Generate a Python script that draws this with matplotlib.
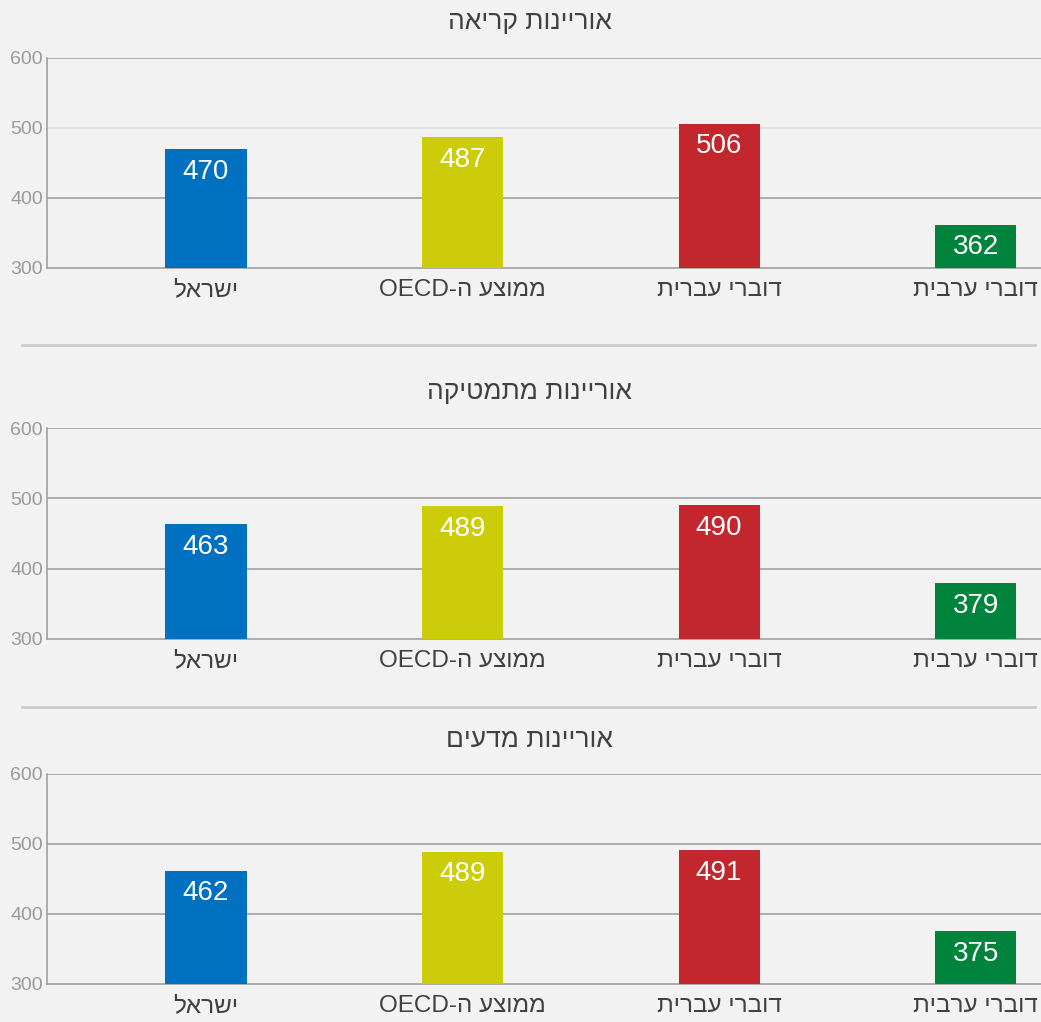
import matplotlib.pyplot as plt
from matplotlib.lines import Line2D

# Hebrew labels are stored in logical order and flipped for display
categories = ["ישראל", "ממוצע ה-OECD", "דוברי עברית", "דוברי ערבית"]
titles = ["אוריינות קריאה", "אוריינות מתמטיקה", "אוריינות מדעים"]
reading = [470, 487, 506, 362]
math = [463, 489, 490, 379]
science = [462, 489, 491, 375]
yticks = [300, 400, 500, 600]

colors = ["#0070c0", "#cccc0a", "#c1272d", "#00843d"]
FONT = ["Liberation Sans Narrow", "Liberation Sans", "DejaVu Sans"]


def visual(text):
    # crude RTL: reverse Hebrew runs, keep Latin runs as they are
    words = text.split(" ")
    out = []
    for w in words:
        if "-" in w and any(c.isascii() and c.isalpha() for c in w):
            pre, post = w.split("-", 1)
            out.append(post + "-" + pre[::-1])
        else:
            out.append(w[::-1])
    return " ".join(out[::-1])


plt.rcParams["font.family"] = FONT

fig = plt.figure(figsize=(10.41, 10.22), dpi=100)
fig.patch.set_facecolor("#f2f2f2")

panels = [
    (reading, [0.0451, 0.7378, 0.9549, 0.2055], 0.9785),
    (math, [0.0451, 0.3748, 0.9549, 0.2064], 0.6164),
    (science, [0.0451, 0.0372, 0.9549, 0.2055], 0.2759),
]

for i, (values, rect, ty) in enumerate(panels):
    ax = fig.add_axes(rect)
    ax.set_facecolor("#f2f2f2")
    x = list(range(len(categories)))
    ax.bar(x, [v - 300 for v in values], bottom=300, width=0.316, color=colors, zorder=3)
    for xi, v in zip(x, values):
        ax.annotate(str(v), (xi, v), xytext=(0, -7), textcoords="offset points",
                    ha="center", va="top", color="white", fontsize=20, zorder=4)
    ax.set_ylim(300, 600)
    ax.set_xlim(-0.62, 3.255)
    ax.set_yticks(yticks)
    ax.set_yticklabels([str(t) for t in yticks], color="#9a9a9a", fontsize=14)
    ax.set_xticks(x)
    ax.set_xticklabels([visual(c) for c in categories], color="#404040", fontsize=17.5)
    ax.tick_params(axis="both", length=0)
    ax.tick_params(axis="x", pad=8)
    ax.tick_params(axis="y", pad=3)
    for t in yticks[1:]:
        c = "#dddddd" if (i == 0 and t == 500) else "#a0a0a0"
        ax.axhline(t, color=c, linewidth=1.2, zorder=1)
    for s in ["top", "right"]:
        ax.spines[s].set_visible(False)
    ax.spines["left"].set_color("#a0a0a0")
    ax.spines["bottom"].set_color("#a0a0a0")
    ax.spines["left"].set_linewidth(1.2)
    ax.spines["bottom"].set_linewidth(1.2)
    fig.text(0.509, ty, visual(titles[i]), ha="center", va="center",
             fontsize=19, color="#404040")

for sy in [0.6624, 0.3082]:
    fig.add_artist(Line2D([0.021, 0.994], [sy, sy], color="#cccccc", linewidth=2))

fig.savefig("out.png", dpi=100, facecolor=fig.get_facecolor())
